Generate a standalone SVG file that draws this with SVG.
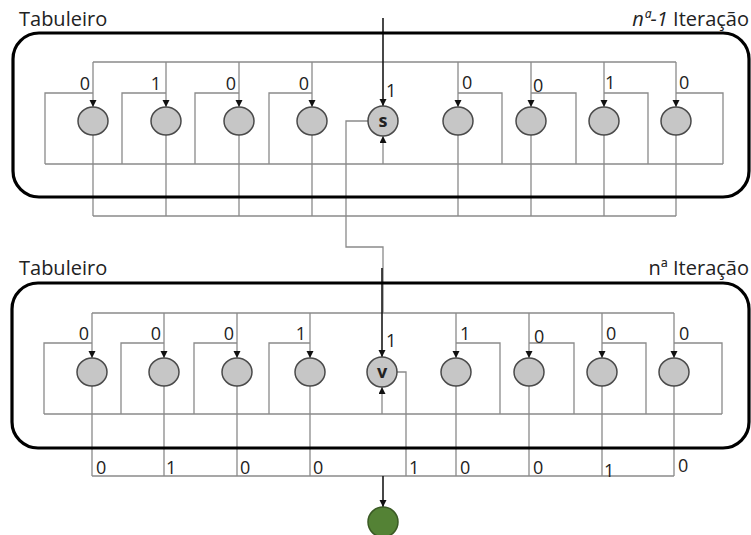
<svg xmlns="http://www.w3.org/2000/svg" width="751" height="535" viewBox="0 0 751 535">
<defs>
<marker id="arr" markerUnits="userSpaceOnUse" markerWidth="8" markerHeight="8" refX="7" refY="3.5" orient="auto">
<path d="M0,0 L7,3.5 L0,7 z" fill="#111"/>
</marker>
<style>
.w{fill:none;stroke:#8a8a8a;stroke-width:1.3}
.d{fill:none;stroke:#1a1a1a;stroke-width:1.6}
.panel{fill:none;stroke:#000;stroke-width:3.2}
.n{fill:#c6c6c6;stroke:#4a4a4a;stroke-width:1.5}
.g{fill:#548235;stroke:#3a5a24;stroke-width:1.5}
.t{font-family:"Open Sans","Noto Sans",sans-serif;font-size:18px;fill:#222}
.h{font-family:"Open Sans","Noto Sans",sans-serif;font-size:20px;fill:#222}
.c{font-family:"Open Sans","Noto Sans",sans-serif;font-size:18px;font-weight:bold;fill:#222;text-anchor:middle}
.e{text-anchor:end}
</style>
</defs>
<rect width="751" height="535" fill="#fff"/>

<g id="connectors">
<!-- top panel -->
<path class="w" d="M93,62 H676"/>
<path class="w" d="M93,62 V107" marker-end="url(#arr)"/>
<path class="w" d="M166,62 V107" marker-end="url(#arr)"/>
<path class="w" d="M239,62 V107" marker-end="url(#arr)"/>
<path class="w" d="M312,62 V107" marker-end="url(#arr)"/>
<path class="w" d="M458,62 V107" marker-end="url(#arr)"/>
<path class="w" d="M531,62 V107" marker-end="url(#arr)"/>
<path class="w" d="M604,62 V107" marker-end="url(#arr)"/>
<path class="w" d="M676,62 V107" marker-end="url(#arr)"/>
<path class="w" d="M93,93 H45 V164 M166,93 H122 V164 M239,93 H195 V164 M312,93 H269 V164"/>
<path class="w" d="M458,93 H502 V164 M531,93 H576 V164 M604,93 H648 V164 M676,93 H723 V164"/>
<path class="w" d="M45,164 H723"/>
<path class="w" d="M383,164 V136" marker-end="url(#arr)"/>
<path class="w" d="M93,121 V216 M166,121 V216 M239,121 V216 M312,121 V216 M458,121 V216 M531,121 V216 M604,121 V216 M676,121 V216"/>
<path class="w" d="M93,216 H676"/>
<path class="d" d="M383,18 V106" marker-end="url(#arr)"/>
<path class="w" d="M368,121 H346 V247 H383 V313"/>
<!-- bottom panel -->
<path class="w" d="M92,313 H674"/>
<path class="w" d="M92,313 V358" marker-end="url(#arr)"/>
<path class="w" d="M164,313 V358" marker-end="url(#arr)"/>
<path class="w" d="M237,313 V358" marker-end="url(#arr)"/>
<path class="w" d="M310,313 V358" marker-end="url(#arr)"/>
<path class="w" d="M456,313 V358" marker-end="url(#arr)"/>
<path class="w" d="M529,313 V358" marker-end="url(#arr)"/>
<path class="w" d="M602,313 V358" marker-end="url(#arr)"/>
<path class="w" d="M674,313 V358" marker-end="url(#arr)"/>
<path class="w" d="M92,343 H44 V414 M164,343 H121 V414 M237,343 H194 V414 M310,343 H269 V414"/>
<path class="w" d="M456,343 H500 V414 M529,343 H574 V414 M602,343 H646 V414 M674,343 H722 V414"/>
<path class="w" d="M44,414 H722"/>
<path class="w" d="M382,414 V387" marker-end="url(#arr)"/>
<path class="w" d="M92,372 V476 M164,372 V476 M237,372 V476 M310,372 V476 M456,372 V476 M529,372 V476 M602,372 V476 M674,372 V476"/>
<path class="w" d="M92,476 H674"/>
<path class="w" d="M397,372 H406 V476"/>
<path class="d" d="M382,268 V357" marker-end="url(#arr)"/>
<path class="d" d="M383,476 V507" marker-end="url(#arr)"/>
</g>

<g id="panel-top">
<rect class="panel" x="13" y="33" width="736" height="164" rx="26"/>
<text class="h" x="19" y="26">Tabuleiro</text>
<text class="h e" x="749" y="26"><tspan font-style="italic">nª-1</tspan> Iteração</text>
</g>
<g id="panel-bottom">
<rect class="panel" x="12" y="283" width="737" height="165" rx="26"/>
<text class="h" x="19" y="275">Tabuleiro</text>
<text class="h e" x="749" y="275">nª Iteração</text>
</g>

<g id="top-nodes">
<g id="t1"><ellipse class="n" cx="93" cy="121" rx="15" ry="14"/><text class="t e" x="90" y="90">0</text></g>
<g id="t2"><ellipse class="n" cx="166" cy="121" rx="15" ry="14"/><text class="t e" x="161" y="90">1</text></g>
<g id="t3"><ellipse class="n" cx="239" cy="121" rx="15" ry="14"/><text class="t e" x="236" y="90">0</text></g>
<g id="t4"><ellipse class="n" cx="312" cy="121" rx="15" ry="14"/><text class="t e" x="309" y="90">0</text></g>
<g id="t5"><ellipse class="n" cx="383" cy="121" rx="15" ry="15"/><text class="c" x="383" y="127">s</text><text class="t" x="386" y="97">1</text></g>
<g id="t6"><ellipse class="n" cx="458" cy="121" rx="15" ry="14"/><text class="t" x="462" y="89">0</text></g>
<g id="t7"><ellipse class="n" cx="531" cy="121" rx="15" ry="14"/><text class="t" x="533" y="92">0</text></g>
<g id="t8"><ellipse class="n" cx="604" cy="121" rx="15" ry="14"/><text class="t" x="605" y="89">1</text></g>
<g id="t9"><ellipse class="n" cx="676" cy="121" rx="15" ry="14"/><text class="t" x="679" y="89">0</text></g>
</g>

<g id="bottom-nodes">
<g id="b1"><ellipse class="n" cx="92" cy="372" rx="15" ry="14"/><text class="t e" x="89" y="340">0</text></g>
<g id="b2"><ellipse class="n" cx="164" cy="372" rx="15" ry="14"/><text class="t e" x="161" y="340">0</text></g>
<g id="b3"><ellipse class="n" cx="237" cy="372" rx="15" ry="14"/><text class="t e" x="234" y="340">0</text></g>
<g id="b4"><ellipse class="n" cx="310" cy="372" rx="15" ry="14"/><text class="t e" x="306" y="340">1</text></g>
<g id="b5"><ellipse class="n" cx="382" cy="372" rx="15" ry="15"/><text class="c" x="382" y="378">v</text><text class="t" x="386" y="347">1</text></g>
<g id="b6"><ellipse class="n" cx="456" cy="372" rx="15" ry="14"/><text class="t" x="460" y="340">1</text></g>
<g id="b7"><ellipse class="n" cx="529" cy="372" rx="15" ry="14"/><text class="t" x="534" y="343">0</text></g>
<g id="b8"><ellipse class="n" cx="602" cy="372" rx="15" ry="14"/><text class="t" x="606" y="340">0</text></g>
<g id="b9"><ellipse class="n" cx="674" cy="372" rx="15" ry="14"/><text class="t" x="679" y="340">0</text></g>
</g>

<g id="output-labels">
<text class="t" x="96" y="474">0</text>
<text class="t" x="166" y="474">1</text>
<text class="t" x="240" y="474">0</text>
<text class="t" x="313" y="474">0</text>
<text class="t" x="409" y="474">1</text>
<text class="t" x="460" y="474">0</text>
<text class="t" x="533" y="474">0</text>
<text class="t" x="604" y="477">1</text>
<text class="t" x="678" y="472">0</text>
</g>

<g id="result">
<ellipse class="g" cx="383" cy="522" rx="15" ry="15"/>
</g>
</svg>
